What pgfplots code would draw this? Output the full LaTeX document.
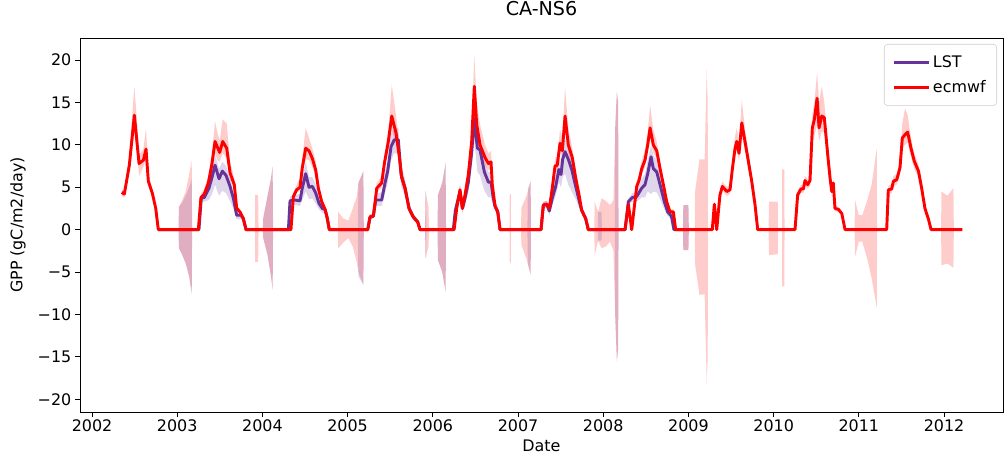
\documentclass[border=0pt]{standalone}
\usepackage{fontspec}
\setmainfont{DejaVu Sans}
\usepackage{pgfplots}
\usepackage{pgfplotstable}
\pgfplotsset{compat=1.18}
\usepgfplotslibrary{fillbetween}

\definecolor{lstpurple}{RGB}{102,51,153}
\definecolor{ecred}{RGB}{255,0,0}

% ecmwf-driven GPP (gC/m2/day), decimal year
\pgfplotstableread{
x y
2002.349 4.4
2002.379 4.2
2002.438 7.6
2002.497 13.5
2002.552 7.8
2002.603 8.2
2002.634 9.5
2002.661 5.7
2002.708 4.3
2002.748 2.5
2002.778 0
2003.248 0
2003.279 3.8
2003.318 4.2
2003.365 5.5
2003.405 7.6
2003.444 10.4
2003.498 9.1
2003.534 10.4
2003.581 9.6
2003.620 6.7
2003.670 5.3
2003.698 2.5
2003.737 2.1
2003.776 1.3
2003.808 0
2004.335 0
2004.363 3.9
2004.402 4.7
2004.441 5.0
2004.468 7.3
2004.508 9.6
2004.547 9.3
2004.586 8.4
2004.626 7.0
2004.656 4.9
2004.696 3.3
2004.735 2.4
2004.762 1.3
2004.785 0
2005.236 0
2005.263 1.5
2005.302 1.6
2005.342 4.9
2005.400 5.5
2005.431 7.8
2005.478 10.4
2005.518 13.4
2005.568 11.4
2005.607 8.6
2005.635 6.1
2005.674 4.9
2005.721 2.5
2005.771 1.5
2005.823 0.9
2005.850 0
2006.250 0
2006.280 2.5
2006.319 4.7
2006.347 2.5
2006.378 4.1
2006.417 6.5
2006.456 10.4
2006.487 16.9
2006.515 12.4
2006.554 10.0
2006.613 8.5
2006.652 7.8
2006.683 8.0
2006.698 5.3
2006.730 2.8
2006.762 2.1
2006.789 0
2007.270 0
2007.297 2.9
2007.337 3.0
2007.367 2.5
2007.402 4.9
2007.434 7.5
2007.460 7.6
2007.493 10.2
2007.520 9.3
2007.552 13.4
2007.590 10.0
2007.637 8.5
2007.677 6.1
2007.716 4.1
2007.747 2.3
2007.794 1.3
2007.825 0
2008.256 0
2008.295 3.0
2008.334 0
2008.393 5.1
2008.420 5.8
2008.452 7.2
2008.490 8.2
2008.522 10.0
2008.550 12.0
2008.588 10.0
2008.628 9.3
2008.667 7.2
2008.706 5.3
2008.745 3.3
2008.784 2.1
2008.823 2.1
2008.850 0
2009.280 0
2009.304 3.0
2009.332 0
2009.370 4.1
2009.398 5.1
2009.450 4.5
2009.488 4.7
2009.515 7.1
2009.547 9.6
2009.567 10.4
2009.594 9.0
2009.626 12.6
2009.664 10.4
2009.703 8.1
2009.743 5.7
2009.782 2.9
2009.813 0
2010.251 0
2010.282 4.1
2010.321 4.8
2010.350 4.8
2010.368 5.8
2010.400 5.3
2010.427 5.8
2010.454 12.0
2010.478 13.0
2010.510 15.5
2010.533 12.0
2010.565 13.4
2010.595 13.2
2010.635 8.8
2010.662 6.1
2010.682 4.5
2010.700 5.5
2010.720 2.5
2010.760 2.4
2010.800 1.9
2010.838 0
2011.327 0
2011.346 4.7
2011.386 4.8
2011.405 5.7
2011.445 5.9
2011.483 7.3
2011.510 10.8
2011.542 11.2
2011.573 11.5
2011.612 9.6
2011.650 8.1
2011.700 6.9
2011.737 4.9
2011.776 2.5
2011.815 1.3
2011.848 0
2012.215 0
}\ecline

% ecmwf spread
\pgfplotstableread{
x lo hi
2002.349 4.0 4.8
2002.379 3.8 4.6
2002.438 6.8 8.8
2002.497 11.5 16.9
2002.530 9.0 12.5
2002.552 6.3 8.8
2002.603 7.4 9.5
2002.634 8.5 12.0
2002.661 5.2 6.5
2002.708 3.9 4.8
2002.748 2.2 2.8
2002.778 0 0
2003.015 0 0
2003.020 -2.2 2.7
2003.060 -3.0 3.5
2003.100 -4.0 4.5
2003.140 -5.5 6.5
2003.170 -7.5 8.2
2003.175 0 0
2003.248 0 0
2003.279 3.4 4.3
2003.318 3.8 4.8
2003.365 4.8 6.3
2003.405 6.5 8.8
2003.444 9.0 12.8
2003.470 8.2 11.5
2003.498 8.0 10.5
2003.534 9.0 13.0
2003.581 8.4 12.5
2003.620 5.8 8.0
2003.670 4.7 6.0
2003.698 2.2 2.9
2003.737 1.9 2.4
2003.776 1.1 1.6
2003.808 0 0
2003.910 0 0
2003.915 -3.8 4.1
2003.950 -3.8 4.1
2003.955 0 0
2004.005 0 0
2004.010 -1.0 1.4
2004.060 -3.0 4.0
2004.100 -5.5 6.0
2004.120 -7.1 7.5
2004.125 0 0
2004.335 0 0
2004.363 3.5 4.4
2004.402 4.3 5.3
2004.441 4.6 6.0
2004.468 6.5 8.5
2004.508 8.3 12.0
2004.547 8.2 10.8
2004.586 7.4 9.6
2004.626 6.2 8.0
2004.656 4.3 5.6
2004.696 2.9 3.8
2004.735 2.1 2.8
2004.762 1.1 1.6
2004.785 0 0
2004.885 0 0
2004.890 -2.2 2.1
2004.950 -1.5 1.3
2005.010 -1.0 1.1
2005.060 -2.0 2.5
2005.107 -3.8 3.9
2005.126 -5.0 5.5
2005.185 -6.5 6.9
2005.190 0 0
2005.236 0 0
2005.263 1.3 1.8
2005.302 1.4 1.9
2005.342 4.4 5.5
2005.400 4.9 6.3
2005.431 7.0 8.8
2005.478 9.3 11.8
2005.518 11.8 17.1
2005.568 10.2 13.5
2005.607 7.6 10.0
2005.635 5.4 7.0
2005.674 4.3 5.6
2005.721 2.2 2.9
2005.771 1.3 1.8
2005.823 0.8 1.1
2005.850 0 0
2005.910 0 0
2005.915 -3.3 4.5
2005.950 -2.0 2.6
2005.955 0 0
2006.055 0 0
2006.060 -3.6 4.1
2006.110 -5.0 5.5
2006.150 -7.3 7.9
2006.155 0 0
2006.250 0 0
2006.280 2.2 2.9
2006.319 4.2 5.3
2006.347 2.2 2.9
2006.378 3.7 4.6
2006.417 5.8 7.5
2006.456 9.3 12.0
2006.487 13.5 20.6
2006.515 11.0 15.0
2006.554 9.0 12.4
2006.613 7.6 10.0
2006.652 7.0 9.0
2006.683 7.2 9.3
2006.698 4.7 6.2
2006.730 2.5 3.2
2006.762 1.9 2.4
2006.789 0 0
2006.900 0 0
2006.903 -3.9 4.2
2006.915 -3.9 4.2
2006.918 0 0
2007.035 0 0
2007.040 -1.8 2.6
2007.100 -3.5 4.0
2007.148 -5.3 5.7
2007.152 0 0
2007.270 0 0
2007.297 2.6 3.3
2007.337 2.7 3.4
2007.367 2.2 2.8
2007.402 4.4 5.5
2007.434 6.7 8.5
2007.460 6.8 8.6
2007.493 9.2 11.8
2007.520 8.4 10.8
2007.552 12.0 16.8
2007.590 9.0 12.0
2007.637 7.6 9.6
2007.677 5.5 6.9
2007.716 3.7 4.6
2007.747 2.1 2.6
2007.794 1.1 1.5
2007.825 0 0
2007.895 0 0
2007.900 -3.0 3.3
2007.940 -1.3 2.1
2007.980 -2.2 3.7
2008.030 -2.0 3.4
2008.080 -1.4 2.9
2008.120 -2.5 3.5
2008.140 -10.0 12.0
2008.160 -15.6 16.3
2008.175 -14.0 15.0
2008.180 0 0
2008.256 0 0
2008.295 2.7 3.4
2008.334 0 0
2008.393 4.6 5.7
2008.420 5.2 6.5
2008.452 6.5 8.2
2008.490 7.4 9.4
2008.522 9.0 11.5
2008.550 10.8 14.7
2008.588 9.0 11.8
2008.628 8.4 10.4
2008.667 6.5 8.0
2008.706 4.8 5.9
2008.745 3.0 3.7
2008.784 1.9 2.4
2008.823 1.9 2.4
2008.850 0 0
2008.935 0 0
2008.940 -2.4 2.9
2009.000 -2.4 2.9
2009.005 0 0
2009.075 0 0
2009.078 -4.1 4.5
2009.130 -7.7 8.3
2009.190 -7.6 8.3
2009.215 -18.3 18.9
2009.226 -15.0 15.0
2009.230 0 0
2009.280 0 0
2009.304 2.7 3.4
2009.332 0 0
2009.370 3.7 4.6
2009.398 4.6 5.7
2009.450 4.0 5.0
2009.488 4.2 5.3
2009.515 6.4 8.0
2009.547 8.6 11.0
2009.567 9.4 12.0
2009.594 8.1 10.2
2009.626 11.0 15.3
2009.664 9.3 11.8
2009.703 7.2 9.0
2009.743 5.1 6.4
2009.782 2.6 3.3
2009.813 0 0
2009.940 0 0
2009.946 -3.0 3.3
2010.048 -2.9 3.3
2010.052 0 0
2010.098 0 0
2010.100 -6.7 7.1
2010.125 -6.7 7.1
2010.128 0 0
2010.251 0 0
2010.282 3.7 4.6
2010.321 4.3 5.3
2010.350 4.3 5.3
2010.368 5.2 6.4
2010.400 4.8 5.9
2010.427 5.2 6.4
2010.454 10.5 13.5
2010.478 11.0 15.0
2010.510 12.5 18.6
2010.533 10.4 15.0
2010.565 11.5 16.9
2010.595 11.5 15.0
2010.635 7.8 10.0
2010.662 5.4 6.8
2010.682 4.0 5.0
2010.700 4.9 6.1
2010.720 2.2 2.8
2010.760 2.1 2.7
2010.800 1.7 2.1
2010.838 0 0
2010.950 0 0
2010.955 -3.2 3.5
2011.000 -1.4 1.7
2011.040 -1.4 1.7
2011.100 -3.5 3.5
2011.150 -5.7 5.3
2011.210 -9.2 9.6
2011.215 0 0
2011.327 0 0
2011.346 4.2 5.2
2011.386 4.3 5.3
2011.405 5.1 6.3
2011.445 5.3 6.6
2011.483 6.5 8.2
2011.510 9.6 12.5
2011.542 10.0 14.3
2011.573 10.3 13.5
2011.612 8.6 10.8
2011.650 7.2 9.0
2011.700 6.1 7.7
2011.737 4.4 5.5
2011.776 2.2 2.8
2011.815 1.1 1.5
2011.848 0 0
2011.965 0 0
2011.970 -4.2 4.5
2012.040 -4.0 4.0
2012.110 -4.5 4.9
2012.115 0 0
2012.215 0 0
}\ecband

% LST-driven GPP
\pgfplotstableread{
x y
2002.780 0
2003.255 0
2003.282 3.7
2003.318 3.8
2003.373 4.9
2003.412 6.3
2003.444 7.6
2003.491 6.0
2003.530 6.9
2003.573 6.4
2003.620 5.1
2003.659 3.7
2003.698 1.7
2003.749 1.7
2003.776 1.3
2003.808 0
2004.305 0
2004.324 3.4
2004.374 3.5
2004.441 3.4
2004.468 4.9
2004.508 6.6
2004.547 5.0
2004.586 5.1
2004.626 4.3
2004.664 3.1
2004.703 2.5
2004.735 2.4
2004.762 1.3
2004.785 0
2005.236 0
2005.263 1.5
2005.302 1.6
2005.330 3.5
2005.400 3.5
2005.439 5.5
2005.470 6.9
2005.510 9.8
2005.548 10.6
2005.595 10.6
2005.627 6.5
2005.674 4.9
2005.721 2.5
2005.771 1.5
2005.823 0.9
2005.850 0
2006.240 0
2006.265 2.3
2006.319 4.5
2006.347 2.5
2006.378 3.7
2006.417 5.6
2006.456 9.1
2006.487 13.1
2006.523 9.6
2006.554 9.4
2006.605 6.8
2006.652 5.6
2006.683 5.6
2006.710 3.7
2006.730 2.8
2006.762 2.1
2006.789 0
2007.270 0
2007.297 2.9
2007.337 3.0
2007.367 2.2
2007.402 3.7
2007.442 5.1
2007.480 7.1
2007.505 6.5
2007.524 8.3
2007.552 9.2
2007.590 8.3
2007.630 7.1
2007.677 5.1
2007.728 3.0
2007.747 2.3
2007.794 1.3
2007.825 0
2008.256 0
2008.295 3.3
2008.342 3.8
2008.393 3.9
2008.452 4.9
2008.490 5.3
2008.522 6.6
2008.561 8.6
2008.588 7.2
2008.628 6.8
2008.667 5.3
2008.717 3.3
2008.756 2.1
2008.800 1.6
2008.830 0
2009.000 0
}\lstline

% LST spread
\pgfplotstableread{
x lo hi
2002.780 0 0
2003.015 0 0
2003.020 -2.2 2.7
2003.060 -3.0 3.2
2003.100 -4.0 4.0
2003.140 -5.5 5.0
2003.170 -7.7 6.0
2003.175 0 0
2003.255 0 0
2003.282 3.2 4.0
2003.318 3.3 4.1
2003.373 3.5 5.6
2003.412 4.3 7.3
2003.444 5.3 8.8
2003.491 4.0 7.2
2003.530 4.6 8.0
2003.573 4.3 7.5
2003.620 3.4 6.0
2003.659 2.5 4.4
2003.698 1.2 2.2
2003.749 1.2 2.2
2003.776 1.0 1.6
2003.808 0 0
2004.005 0 0
2004.010 -1.0 1.4
2004.060 -3.0 4.0
2004.100 -5.5 6.0
2004.120 -7.1 7.5
2004.125 0 0
2004.305 0 0
2004.324 2.9 3.9
2004.374 2.9 4.1
2004.441 2.8 4.2
2004.468 3.5 6.0
2004.508 4.5 8.0
2004.547 3.6 6.2
2004.586 3.7 6.2
2004.626 3.1 5.3
2004.664 2.4 3.8
2004.703 2.0 3.0
2004.735 1.9 2.8
2004.762 1.0 1.6
2004.785 0 0
2005.120 0 0
2005.126 -5.5 5.5
2005.185 -6.5 6.9
2005.190 0 0
2005.236 0 0
2005.263 1.2 1.8
2005.302 1.3 1.9
2005.330 2.8 4.3
2005.400 2.8 4.4
2005.439 4.3 6.7
2005.470 5.5 8.2
2005.510 8.2 11.3
2005.548 9.0 12.0
2005.595 9.0 12.0
2005.627 5.2 7.8
2005.674 3.9 5.9
2005.721 1.9 3.1
2005.771 1.1 1.9
2005.823 0.6 1.2
2005.850 0 0
2005.910 0 0
2005.913 -3.3 4.5
2005.920 -3.3 4.5
2005.925 0 0
2006.055 0 0
2006.060 -3.6 4.1
2006.110 -5.0 5.5
2006.150 -7.3 7.9
2006.155 0 0
2006.240 0 0
2006.265 1.8 2.8
2006.319 3.7 5.3
2006.347 1.9 3.1
2006.378 2.9 4.5
2006.417 4.4 6.8
2006.456 7.5 10.5
2006.487 10.5 15.0
2006.523 6.8 11.5
2006.554 6.4 11.0
2006.605 4.6 8.2
2006.652 3.8 6.8
2006.683 3.8 6.8
2006.710 2.7 4.6
2006.730 2.2 3.4
2006.762 1.7 2.5
2006.789 0 0
2007.110 0 0
2007.115 -4.0 4.8
2007.148 -5.3 5.7
2007.152 0 0
2007.270 0 0
2007.297 2.5 3.3
2007.337 2.5 3.4
2007.367 1.7 2.7
2007.402 2.9 4.5
2007.442 4.0 6.3
2007.480 5.6 8.6
2007.505 5.0 8.0
2007.524 6.2 10.0
2007.552 6.6 10.7
2007.590 5.3 9.8
2007.630 4.5 8.5
2007.677 3.6 6.3
2007.728 2.3 3.7
2007.747 1.9 2.7
2007.794 1.1 1.5
2007.825 0 0
2007.935 0 0
2007.940 -1.3 2.1
2007.980 -1.3 2.1
2007.985 0 0
2008.135 0 0
2008.140 -10.0 12.0
2008.160 -15.6 16.3
2008.175 -14.0 15.0
2008.180 0 0
2008.256 0 0
2008.295 2.9 3.7
2008.342 3.3 4.3
2008.393 3.3 4.5
2008.452 3.8 6.0
2008.490 3.8 6.6
2008.522 4.5 8.2
2008.561 4.2 10.0
2008.588 4.5 8.8
2008.628 4.4 8.2
2008.667 3.6 6.6
2008.717 2.4 4.2
2008.756 1.6 2.6
2008.800 1.2 2.0
2008.830 0 0
2008.935 0 0
2008.940 -2.4 2.9
2009.000 -2.4 2.9
2009.005 0 0
}\lstband

\begin{document}
\begin{tikzpicture}
\begin{axis}[
  at={(0,0)}, anchor=south west,
  scale only axis,
  width=664.56bp, height=269.28bp,
  xmin=2001.859, xmax=2012.692,
  ymin=-21.5, ymax=22.6,
  axis line style={line width=0.6bp},
  tick pos=left,
  tick align=outside,
  major tick length=3.5bp,
  every tick/.style={black, line width=0.6bp},
  xtick={2002,2003,2004,2005,2006,2007,2008,2009,2010,2011,2012},
  xticklabels={2002,2003,2004,2005,2006,2007,2008,2009,2010,2011,2012},
  ytick={-20,-15,-10,-5,0,5,10,15,20},
  yticklabels={−20,−15,−10,−5,0,5,10,15,20},
  tick label style={font=\fontsize{11.5}{13.8}\selectfont},
  xticklabel style={inner sep=0pt, yshift=-1.5bp},
  yticklabel style={inner sep=0pt, xshift=-2.6bp},
  title={CA-NS6},
  title style={font=\fontsize{13.8}{16}\selectfont, at={(axis description cs:0.5,1.056)}, anchor=center, yshift=0pt},
  xlabel={Date},
  xlabel style={font=\fontsize{11.5}{13.8}\selectfont, at={(axis description cs:0.5,-0.091)}, anchor=center, yshift=0pt},
  ylabel={GPP (gC/m2/day)},
  ylabel style={font=\fontsize{11.5}{13.8}\selectfont, at={(axis description cs:-0.0671,0.5)}, anchor=center},
  legend cell align=left,
  legend style={at={(axis description cs:0.9935,0.984)}, anchor=north east,
    draw=black!20, rounded corners=2.5bp, fill=white,
    font=\fontsize{11.5}{13.8}\selectfont, inner xsep=6bp, inner ysep=6bp,
    row sep=4bp},
  legend image code/.code={\draw[#1, line width=2.1bp] (0bp,0bp) -- (25bp,0bp);},
]
% spread bands
\addplot[draw=none, name path=ehi, forget plot] table[x=x, y=hi] {\ecband};
\addplot[draw=none, name path=elo, forget plot] table[x=x, y=lo] {\ecband};
\addplot[fill=ecred, fill opacity=0.2, draw=none, forget plot] fill between[of=ehi and elo];
\addplot[draw=none, name path=lhi, forget plot] table[x=x, y=hi] {\lstband};
\addplot[draw=none, name path=llo, forget plot] table[x=x, y=lo] {\lstband};
\addplot[fill=lstpurple, fill opacity=0.2, draw=none, forget plot] fill between[of=lhi and llo];
% mean curves
\addplot[lstpurple, line width=2.1bp, line join=round, no markers] table[x=x, y=y] {\lstline};
\addlegendentry{LST}
\addplot[ecred, line width=2.1bp, line join=round, no markers] table[x=x, y=y] {\ecline};
\addlegendentry{ecmwf}
\end{axis}
\pgfresetboundingbox
\path[use as bounding box] (-57.6bp,-36bp) rectangle (665.28bp,296.64bp);
\end{tikzpicture}
\end{document}
